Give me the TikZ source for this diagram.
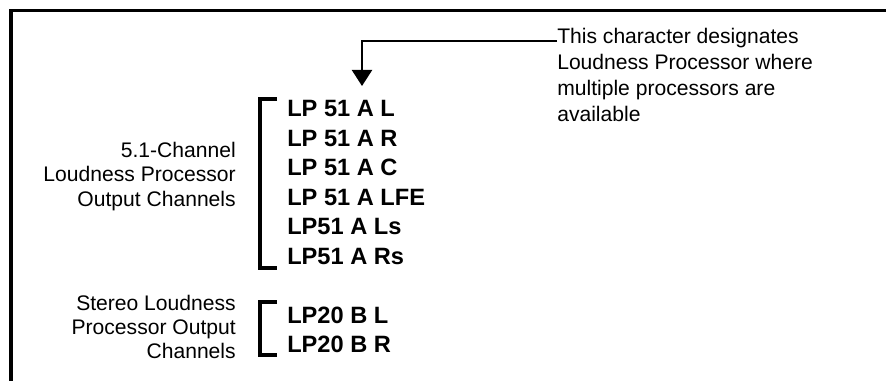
\documentclass[tikz,border=0pt]{standalone}
\usepackage{fontspec}
\setmainfont{Liberation Sans}
\usetikzlibrary{arrows.meta, calc}

\begin{document}
\begin{tikzpicture}[
  frame/.style={line width=2.4pt},
  bracket/.style={line width=2.4pt},
  pointer/.style={line width=1.6pt, -{Triangle[width=5mm, length=4mm]}},
  caption/.style={inner sep=0pt, align=right, font=\fontsize{15}{17.2}\selectfont},
  note/.style={inner sep=0pt, align=left, font=\fontsize{15}{18.5}\selectfont},
  chan/.style={inner sep=0pt, align=left, font=\fontsize{16.8}{21}\selectfont\bfseries}]
  \useasboundingbox (0,0) rectangle (22.15,9.525);
  % frame, top and left side only
  \draw[frame] (22.15,9.26) -- (0.275,9.26) -- (0.275,0);
  % 5.1 group
  \node[caption, anchor=north east] (capa) at (5.9,5.97) {5.1-Channel\\Loudness Processor\\Output Channels};
  \node[chan, anchor=north west] (lpa) at (7.175,7.025) {LP 51 A L\\LP 51 A R\\LP 51 A C\\LP 51 A LFE\\LP51 A Ls\\LP51 A Rs};
  \draw[bracket] (6.925,7.05) -- (6.5,7.05) -- (6.5,2.825) -- (6.925,2.825);
  % stereo group
  \node[caption, anchor=north east] (capb) at (5.9,2.15) {Stereo Loudness\\Processor Output\\Channels};
  \node[chan, anchor=north west] (lpb) at (7.175,1.86) {LP20 B L\\LP20 B R};
  \draw[bracket] (6.925,1.975) -- (6.5,1.975) -- (6.5,0.65) -- (6.925,0.65);
  % note and pointer to the A
  \node[note, anchor=north west] (note) at (13.925,8.825) {This character designates\\Loudness Processor where\\multiple processors are\\available};
  \coordinate (tipA) at (9.05,7.375);
  \draw[pointer] ($(note.north west)+(0,-0.33)$) -| (tipA);
\end{tikzpicture}
\end{document}
